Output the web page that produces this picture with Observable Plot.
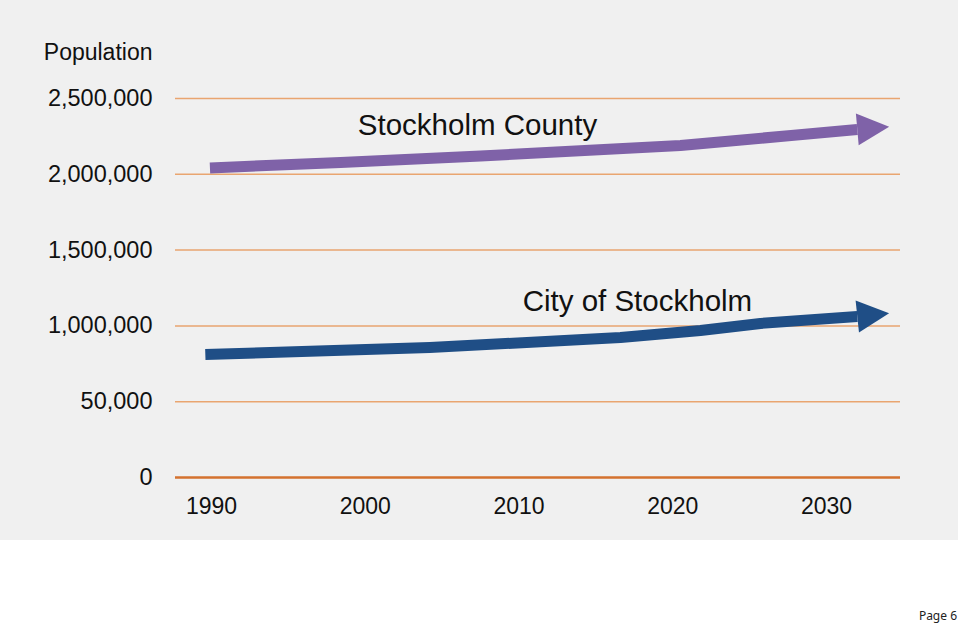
<!DOCTYPE html>
<html><head><meta charset="utf-8">
<script src="https://cdn.jsdelivr.net/npm/d3@7"></script>
<script src="https://cdn.jsdelivr.net/npm/@observablehq/plot@0.6"></script>
<style>
body{margin:0;background:#fff;}
#wrap{position:relative;width:960px;height:627px;overflow:hidden;}
#page{position:absolute;right:3px;top:607px;font:12px "Noto Sans",sans-serif;color:#222;white-space:nowrap;}
</style>
</head><body>
<div id="wrap"><div id="chart"></div><div id="page">Page 6</div></div>
<script>
// Data
const countyYears = [1989.9, 1998.4, 2007.5, 2020.5, 2027.7, 2032.0];
const countyPop   = [2042000, 2078000, 2121000, 2190000, 2256000, 2296000];
const cityYears   = [1989.6, 2004.2, 2016.6, 2021.8, 2025.7, 2032.0];
const cityPop     = [811000, 858000, 923000, 970000, 1016000, 1062000];
const seriesNames = ["Stockholm County", "City of Stockholm"];
const labelYears  = [2007.3, 2017.7];
const labelValues = [2262000, 1095000];
const yTicks      = [0, 500000, 1000000, 1500000, 2000000, 2500000];
const yTickLabels = ["0", "50,000", "1,000,000", "1,500,000", "2,000,000", "2,500,000"];
const xTicks      = [1990, 2000, 2010, 2020, 2030];
const yTitle      = "Population";

const county = countyYears.map((y, i) => ({year: y, pop: countyPop[i]}));
const city = cityYears.map((y, i) => ({year: y, pop: cityPop[i]}));
const labels = seriesNames.map((n, i) => ({name: n, year: labelYears[i], pop: labelValues[i]}));

const arrowHead = {
  draw(ctx, size) {
    const r = Math.sqrt(size / Math.PI);
    ctx.moveTo(2 * r, 0);
    ctx.lineTo(0, -r);
    ctx.lineTo(0, r);
    ctx.closePath();
  }
};

const purple = "#7f62a8", blue = "#1f4e86";
const font = "Liberation Sans, Arial, sans-serif";

const chart = Plot.plot({
  width: 958,
  height: 540,
  marginLeft: 175,
  marginRight: 58,
  marginTop: 98,
  marginBottom: 63,
  style: {background: "#f0f0f0", fontFamily: font, color: "#111", fontSize: "23px"},
  x: {domain: [1987.66, 2034.81], label: null},
  y: {domain: [0, 2500000], label: null},
  marks: [
    Plot.ruleY(yTicks.filter(d => d !== 0), {stroke: "#e9a570", strokeWidth: 1.5}),
    Plot.ruleY([0], {stroke: "#d4722f", strokeWidth: 2.5}),
    Plot.axisY(yTicks, {tickSize: 0, tickPadding: 23, fontSize: 23.5, tickFormat: d => yTickLabels[yTicks.indexOf(d)], label: null}),
    Plot.axisX(xTicks, {tickSize: 0, tickPadding: 20, fontSize: 23, tickFormat: d => String(d), label: null}),
    Plot.text([yTitle], {frameAnchor: "top-left", dx: -23, dy: -39, textAnchor: "end", lineAnchor: "bottom", fontSize: 23, fill: "#111"}),
    Plot.line(county, {x: "year", y: "pop", stroke: purple, strokeWidth: 11, strokeLinecap: "butt", strokeLinejoin: "round"}),
    Plot.dot(county.slice(-1), {x: "year", y: "pop", r: 16, symbol: arrowHead, fill: purple, stroke: "none", rotate: -5}),
    Plot.line(city, {x: "year", y: "pop", stroke: blue, strokeWidth: 11, strokeLinecap: "butt", strokeLinejoin: "round"}),
    Plot.dot(city.slice(-1), {x: "year", y: "pop", r: 16, symbol: arrowHead, fill: blue, stroke: "none", rotate: -6}),
    Plot.text(labels, {x: "year", y: "pop", text: "name", textAnchor: "middle", lineAnchor: "bottom", fontSize: 29.5, fill: "#111"})
  ]
});
document.getElementById("chart").appendChild(chart);
</script>
</body></html>
